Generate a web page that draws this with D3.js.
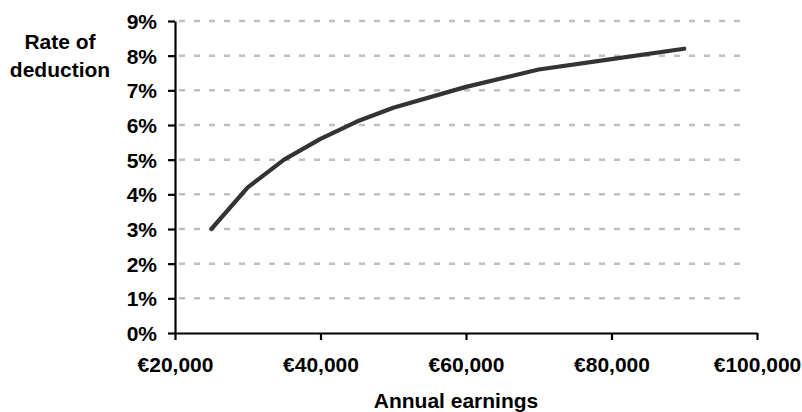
<!DOCTYPE html>
<html>
<head>
<meta charset="utf-8">
<script src="https://cdn.jsdelivr.net/npm/d3@7"></script>
<style>
  body { margin: 0; background: #fff; }
  svg { display: block; font-family: "Liberation Sans", Arial, sans-serif; }
</style>
</head>
<body>
<div id="chart"></div>
<script>
// annual earnings (euro) and rate of deduction (%)
const earnings = [25000, 30000, 35000, 40000, 45000, 50000, 60000, 70000, 80000, 90000]
const rates = [3.0, 4.2, 5.0, 5.6, 6.1, 6.5, 7.1, 7.6, 7.9, 8.2]
const xTicks = [20000, 40000, 60000, 80000, 100000]
const yTicks = [0, 1, 2, 3, 4, 5, 6, 7, 8, 9]

const width = 802, height = 412
const margin = { top: 21, right: 45, bottom: 79, left: 175 }
const fontSize = "21px"

const svg = d3.select("#chart").append("svg")
  .attr("width", width)
  .attr("height", height)

const x = d3.scaleLinear()
  .domain([20000, 100000])
  .range([margin.left, width - margin.right])

const y = d3.scaleLinear()
  .domain([0, 9])
  .range([height - margin.bottom, margin.top])

/* dashed gridlines */
svg.append("g")
  .selectAll("line")
  .data(yTicks.filter(d => d > 0))
  .join("line")
  .attr("x1", x(20000) + 4)
  .attr("x2", x(100000) - 8)
  .attr("y1", d => y(d))
  .attr("y2", d => y(d))
  .attr("stroke", "#c0c0c0")
  .attr("stroke-width", 2.5)
  .attr("stroke-dasharray", "6,9")

const fmtEuro = d => "€" + d3.format(",")(d)

/* x axis */
const xAxis = svg.append("g")
  .attr("transform", `translate(0,${y(0)})`)
  .call(d3.axisBottom(x).tickValues(xTicks).tickFormat(fmtEuro).tickSize(7).tickPadding(17).tickSizeOuter(0))
xAxis.select(".domain").attr("stroke", "#000").attr("stroke-width", 2.2)
xAxis.selectAll(".tick line").attr("stroke", "#000").attr("stroke-width", 2.2)
xAxis.selectAll("text")
  .attr("fill", "#000")
  .style("font-size", fontSize)
  .style("font-weight", "bold")

/* y axis */
const yAxis = svg.append("g")
  .attr("transform", `translate(${x(20000)},0)`)
  .call(d3.axisLeft(y).tickValues(yTicks).tickFormat(d => d + "%").tickSize(7).tickPadding(11).tickSizeOuter(0))
yAxis.select(".domain").attr("stroke", "#000").attr("stroke-width", 2.2)
yAxis.selectAll(".tick line").attr("stroke", "#000").attr("stroke-width", 2.2)
yAxis.selectAll("text")
  .attr("fill", "#000")
  .attr("dy", "0.36em")
  .style("font-size", fontSize)
  .style("font-weight", "bold")

/* the rate line */
const line = d3.line()
  .x((d, i) => x(earnings[i]))
  .y(d => y(d))

svg.append("path")
  .datum(rates)
  .attr("fill", "none")
  .attr("stroke", "#333333")
  .attr("stroke-width", 4.2)
  .attr("stroke-linejoin", "round")
  .attr("stroke-linecap", "round")
  .attr("d", line)

/* axis titles */
const yTitle = svg.append("text")
  .attr("text-anchor", "middle")
  .style("font-size", fontSize)
  .style("font-weight", "bold")
yTitle.append("tspan").attr("x", 60).attr("y", 49).text("Rate of")
yTitle.append("tspan").attr("x", 60).attr("y", 77).text("deduction")

svg.append("text")
  .attr("x", 456)
  .attr("y", 408)
  .attr("text-anchor", "middle")
  .style("font-size", fontSize)
  .style("font-weight", "bold")
  .text("Annual earnings")
</script>
</body>
</html>
